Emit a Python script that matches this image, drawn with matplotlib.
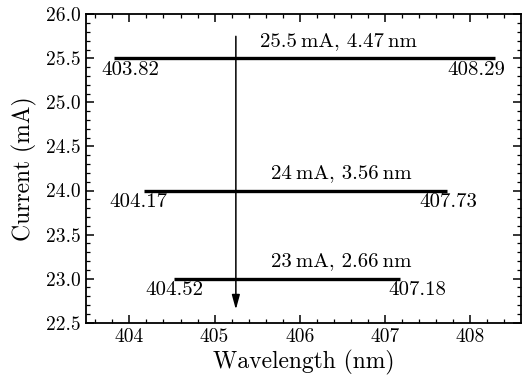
import matplotlib
matplotlib.use("Agg")
import matplotlib.pyplot as plt
from matplotlib.ticker import MultipleLocator, FormatStrFormatter

plt.rcParams['font.family'] = ['cmr10', 'DejaVu Serif']
plt.rcParams['mathtext.fontset'] = 'cm'
plt.rcParams['axes.formatter.use_mathtext'] = True

currents = [25.5, 24.0, 23.0]
left_wl = [403.82, 404.17, 404.52]
right_wl = [408.29, 407.73, 407.18]
titles = ["25.5\u2009mA, 4.47\u2009nm", "24\u2009mA, 3.56\u2009nm", "23\u2009mA, 2.66\u2009nm"]
# label placement (x positions of the endpoint labels and titles)
left_lab_x = [404.01, 404.11, 404.53]
right_lab_x = [408.07, 407.74, 407.38]
title_x = [406.46, 406.49, 406.49]
arrow_x = 405.25
arrow_top = 25.75
arrow_bottom = 22.65

fig = plt.figure(figsize=(5.28, 3.76), dpi=100)
ax = fig.add_axes([86/528, 1-322.7/376, (520.7-86)/528, (322.7-14.3)/376])

for c, l, r, t, lx, rx, tx in zip(currents, left_wl, right_wl, titles,
                                   left_lab_x, right_lab_x, title_x):
    ax.plot([l, r], [c, c], color='black', lw=2.4, solid_capstyle='butt')
    ax.text(lx, c - 0.13, f"{l:.2f}", ha='center', va='center', fontsize=15)
    ax.text(rx, c - 0.13, f"{r:.2f}", ha='center', va='center', fontsize=15)
    ax.text(tx, c + 0.2, t, ha='center', va='center', fontsize=15)

ax.annotate('', xy=(arrow_x, arrow_bottom), xytext=(arrow_x, arrow_top),
            arrowprops=dict(arrowstyle='-|>,head_length=0.62,head_width=0.17',
                            color='black', lw=1.1,
                            mutation_scale=14, shrinkA=0, shrinkB=0))

ax.set_xlim(403.49, 408.595)
ax.set_ylim(22.5, 26.0)
ax.xaxis.set_major_locator(MultipleLocator(1))
ax.xaxis.set_minor_locator(MultipleLocator(0.2))
ax.yaxis.set_major_locator(MultipleLocator(0.5))
ax.yaxis.set_minor_locator(MultipleLocator(0.1))
ax.yaxis.set_major_formatter(FormatStrFormatter('%.1f'))
ax.xaxis.set_major_formatter(FormatStrFormatter('%d'))
ax.tick_params(which='both', direction='in', top=True, right=True, labelsize=14)
ax.tick_params(which='major', length=6, width=1.1, pad=4)
ax.tick_params(which='minor', length=3, width=0.9)
for s in ax.spines.values():
    s.set_linewidth(1.3)
ax.set_xlabel('Wavelength (nm)', fontsize=17)
ax.set_ylabel('Current (mA)', fontsize=17)
ax.xaxis.label.set_va('center')
ax.yaxis.label.set_va('center')
ax.xaxis.set_label_coords((304 - 86) / 434.7, -(362 - 322.7) / 308.4)
ax.yaxis.set_label_coords(-(86 - 24) / 434.7, 0.5)

fig.savefig('out.png', dpi=100)
